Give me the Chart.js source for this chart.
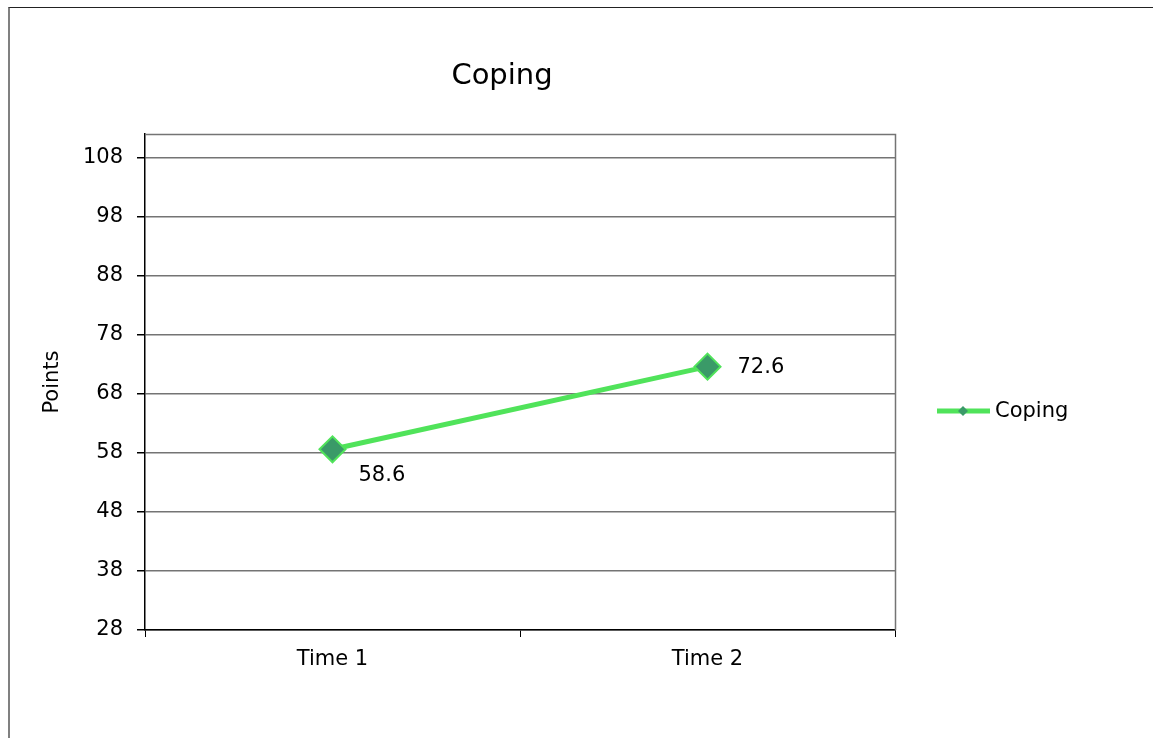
<!DOCTYPE html>
<html>
<head>
<meta charset="utf-8">
<script src="https://cdn.jsdelivr.net/npm/chart.js@4.4.1/dist/chart.umd.min.js"></script>
<style>
  body { margin: 0; background: #fff; overflow: hidden; }
  #frame { position: absolute; left: 8px; top: 7px; width: 1200px; height: 800px;
           border-left: 2px solid #808080; border-top: 1px solid #222; }
  #chart { position: absolute; left: 0; top: 0; }
</style>
</head>
<body>
<div id="frame"></div>
<canvas id="chart" width="1153" height="738"></canvas>
<script>
var categories = ['Time 1', 'Time 2']
var copingValues = [58.6, 72.6]
var yTicks = [28, 38, 48, 58, 68, 78, 88, 98, 108]
var seriesName = 'Coping'
var chartTitle = 'Coping'
var yTitle = 'Points'

var font = 'DejaVu Sans, Verdana, sans-serif'
var lineGreen = '#50e35a'
var markerFill = '#3a9a68'
var gridGray = '#747474'

// title, legend, data labels and plot frame
var extras = {
  id: 'extras',
  beforeDatasetsDraw: function (chart) {
    var a = chart.chartArea
    var ctx = chart.ctx
    ctx.save()
    ctx.strokeStyle = gridGray
    ctx.lineWidth = 1.5
    ctx.beginPath()
    ctx.moveTo(a.left, a.top + 0.5)
    ctx.lineTo(a.right + 0.5, a.top + 0.5)
    ctx.lineTo(a.right + 0.5, a.bottom)
    ctx.stroke()
    ctx.restore()
  },
  afterDraw: function (chart) {
    var ctx = chart.ctx
    var a = chart.chartArea
    ctx.save()
    ctx.fillStyle = '#000'
    ctx.textBaseline = 'middle'

    ctx.font = '29px ' + font
    ctx.textAlign = 'center'
    ctx.fillText(chartTitle, 502, 76)

    // data labels
    ctx.font = '21px ' + font
    ctx.textAlign = 'left'
    var pts = chart.getDatasetMeta(0).data
    var offs = [[26, 26], [30, 1]]
    pts.forEach(function (p, i) {
      ctx.fillText(String(copingValues[i]), p.x + offs[i][0], p.y + offs[i][1])
    })

    // legend
    var ly = (a.top + a.bottom) / 2 + 29
    var lx = a.right + 42
    ctx.strokeStyle = lineGreen
    ctx.lineWidth = 5
    ctx.beginPath()
    ctx.moveTo(lx, ly)
    ctx.lineTo(lx + 53, ly)
    ctx.stroke()
    ctx.fillStyle = markerFill
    ctx.beginPath()
    ctx.moveTo(lx + 26, ly - 5)
    ctx.lineTo(lx + 31, ly)
    ctx.lineTo(lx + 26, ly + 5)
    ctx.lineTo(lx + 21, ly)
    ctx.closePath()
    ctx.fill()
    ctx.fillStyle = '#000'
    ctx.fillText(seriesName, lx + 58, ly + 1)
    ctx.restore()
  }
}

new Chart(document.getElementById('chart'), {
  type: 'line',
  data: {
    labels: categories,
    datasets: [{
      label: seriesName,
      data: copingValues,
      borderColor: lineGreen,
      borderWidth: 5,
      pointStyle: 'rectRot',
      pointRadius: 13,
      pointBackgroundColor: markerFill,
      pointBorderColor: lineGreen,
      pointBorderWidth: 2,
      tension: 0
    }]
  },
  options: {
    responsive: false,
    animation: false,
    devicePixelRatio: 1,
    layout: { padding: { left: 20, right: 258, top: 134, bottom: 58 } },
    plugins: { legend: { display: false }, title: { display: false }, tooltip: { enabled: false } },
    scales: {
      x: {
        offset: true,
        grid: { offset: true, drawOnChartArea: false, drawTicks: true, tickLength: 7, color: '#000' },
        border: { color: '#000', width: 1.5 },
        ticks: { color: '#000', font: { family: font, size: 21 }, padding: 10 },
        afterFit: function (s) { s.height = 50 }
      },
      y: {
        min: 28,
        max: 112,
        afterBuildTicks: function (s) { s.ticks = yTicks.map(function (v) { return { value: v } }) },
        grid: { color: gridGray, lineWidth: 1.5, tickLength: 8, tickColor: '#000' },
        border: { color: '#000', width: 1.5 },
        ticks: { color: '#000', font: { family: font, size: 21 }, padding: 14 },
        title: { display: true, text: yTitle, color: '#000', font: { family: font, size: 21 }, padding: { top: 20, bottom: 0 } },
        afterFit: function (s) { s.width = 125 }
      }
    }
  },
  plugins: [extras]
})
</script>
</body>
</html>
